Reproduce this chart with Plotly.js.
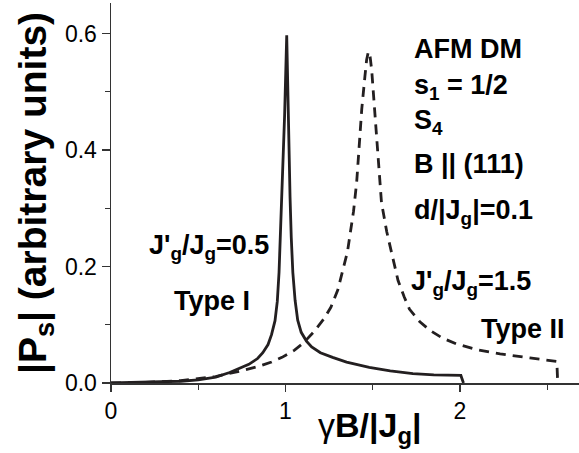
<!DOCTYPE html>
<html>
<head>
<meta charset="utf-8">
<script src="https://cdn.plot.ly/plotly-3.0.1.min.js"></script>
<style>html,body{margin:0;padding:0;background:#fff;}#chart{width:579px;height:453px;}</style>
</head>
<body>
<div id="chart"></div>
<script>
// Type I, J'g/Jg = 0.5 (solid)
const xTypeI = [0, 0.2, 0.4, 0.5, 0.6, 0.68, 0.73, 0.79, 0.84, 0.87, 0.9, 0.92, 0.94, 0.953, 0.963, 0.972, 0.985, 0.995, 1.007, 1.013, 1.02, 1.026, 1.033, 1.042, 1.055, 1.07, 1.09, 1.12, 1.15, 1.2, 1.27, 1.35, 1.48, 1.6, 1.73, 1.85, 2.005, 2.02];
const yTypeI = [0, 0.001, 0.003, 0.0055, 0.01, 0.018, 0.024, 0.032, 0.042, 0.052, 0.066, 0.083, 0.107, 0.14, 0.19, 0.26, 0.36, 0.46, 0.597, 0.5, 0.4, 0.32, 0.25, 0.19, 0.142, 0.108, 0.087, 0.072, 0.062, 0.052, 0.044, 0.036, 0.027, 0.021, 0.016, 0.014, 0.013, 0];
// Type II, J'g/Jg = 1.5 (dashed)
const xTypeII = [0, 0.2, 0.4, 0.5, 0.6, 0.67, 0.75, 0.84, 0.92, 0.98, 1.05, 1.1, 1.16, 1.22, 1.26, 1.3, 1.33, 1.355, 1.37, 1.39, 1.408, 1.425, 1.437, 1.455, 1.465, 1.475, 1.485, 1.494, 1.513, 1.532, 1.55, 1.58, 1.6, 1.62, 1.645, 1.68, 1.71, 1.77, 1.83, 1.9, 1.98, 2.1, 2.23, 2.4, 2.555, 2.56];
const yTypeII = [0, 0.001, 0.004, 0.007, 0.011, 0.016, 0.021, 0.028, 0.036, 0.044, 0.056, 0.068, 0.087, 0.11, 0.13, 0.16, 0.193, 0.225, 0.255, 0.295, 0.345, 0.42, 0.47, 0.526, 0.555, 0.569, 0.56, 0.537, 0.457, 0.377, 0.31, 0.26, 0.235, 0.205, 0.176, 0.148, 0.127, 0.105, 0.09, 0.077, 0.067, 0.057, 0.05, 0.043, 0.037, 0];

const xTickVals = [0, 1, 2];
const xTickText = ['0', '1', '2'];
const yTickVals = [0, 0.2, 0.4, 0.6];
const yTickText = ['0.0', '0.2', '0.4', '0.6'];

const ink = '#231f20';
const FONT = 'Liberation Sans, Arial, Helvetica, sans-serif';

const traces = [
  {x: xTypeI, y: yTypeI, mode: 'lines', line: {color: ink, width: 2.8}, showlegend: false, hoverinfo: 'skip'},
  {x: xTypeII, y: yTypeII, mode: 'lines', line: {color: ink, width: 2.8, dash: '10px,7px'}, showlegend: false, hoverinfo: 'skip'}
];

function ann(text, x, y, size) {
  return {text: text, x: x, y: y, xref: 'paper', yref: 'paper', xanchor: 'left', yanchor: 'middle', showarrow: false, font: {family: FONT, size: size || 27, color: '#000'}};
}

const layout = {
  width: 579, height: 453,
  margin: {l: 111, r: 0, t: 3, b: 70},
  paper_bgcolor: '#fff', plot_bgcolor: '#fff',
  font: {family: FONT, color: '#000'},
  xaxis: {
    range: [0, 2.682], showgrid: false, zeroline: false,
    showline: true, linecolor: '#333', linewidth: 1.5,
    ticks: 'outside', ticklen: 7, tickwidth: 1.3, tickcolor: '#333',
    tickvals: xTickVals, ticktext: xTickText,
    tickfont: {family: FONT, size: 23, color: '#000'},
    minor: {dtick: 0.5, tick0: 0, ticks: 'outside', ticklen: 5, tickwidth: 1.2, tickcolor: '#333'}
  },
  yaxis: {
    range: [0, 0.6524], showgrid: false, zeroline: false,
    showline: true, linecolor: '#333', linewidth: 1.5,
    ticks: 'outside', ticklen: 8, tickwidth: 1.3, tickcolor: '#333',
    tickvals: yTickVals, ticktext: yTickText,
    tickfont: {family: FONT, size: 23, color: '#000'},
    minor: {dtick: 0.1, tick0: 0, ticks: 'outside', ticklen: 5, tickwidth: 1.2, tickcolor: '#333'},
    title: {text: '<b>|P<sub>s</sub>| (arbitrary units)</b>', font: {family: FONT, size: 39, color: '#000'}, standoff: 6}
  },
  annotations: [
    {text: 'γ<b>B/|J</b><sub><b>g</b></sub><b>|</b>', x: 0.553, y: -0.118, xref: 'paper', yref: 'paper', xanchor: 'center', yanchor: 'middle', showarrow: false, font: {family: FONT, size: 34, color: '#000'}},
    ann('<b>AFM DM</b>', 0.643, 0.879),
    ann('<b>s<sub>1</sub> = 1/2</b>', 0.643, 0.778),
    ann('<b>S<sub>4</sub></b>', 0.643, 0.686),
    ann('<b>B || (111)</b>', 0.643, 0.576),
    ann('<b>d/|J<sub>g</sub>|=0.1</b>', 0.643, 0.450),
    ann("<b>J'<sub>g</sub>/J<sub>g</sub>=0.5</b>", 0.077, 0.358),
    ann('<b>Type I</b>', 0.131, 0.216),
    ann("<b>J'<sub>g</sub>/J<sub>g</sub>=1.5</b>", 0.636, 0.264),
    ann('<b>Type II</b>', 0.786, 0.142)
  ]
};

Plotly.newPlot('chart', traces, layout, {staticPlot: true, displayModeBar: false});
</script>
</body>
</html>
